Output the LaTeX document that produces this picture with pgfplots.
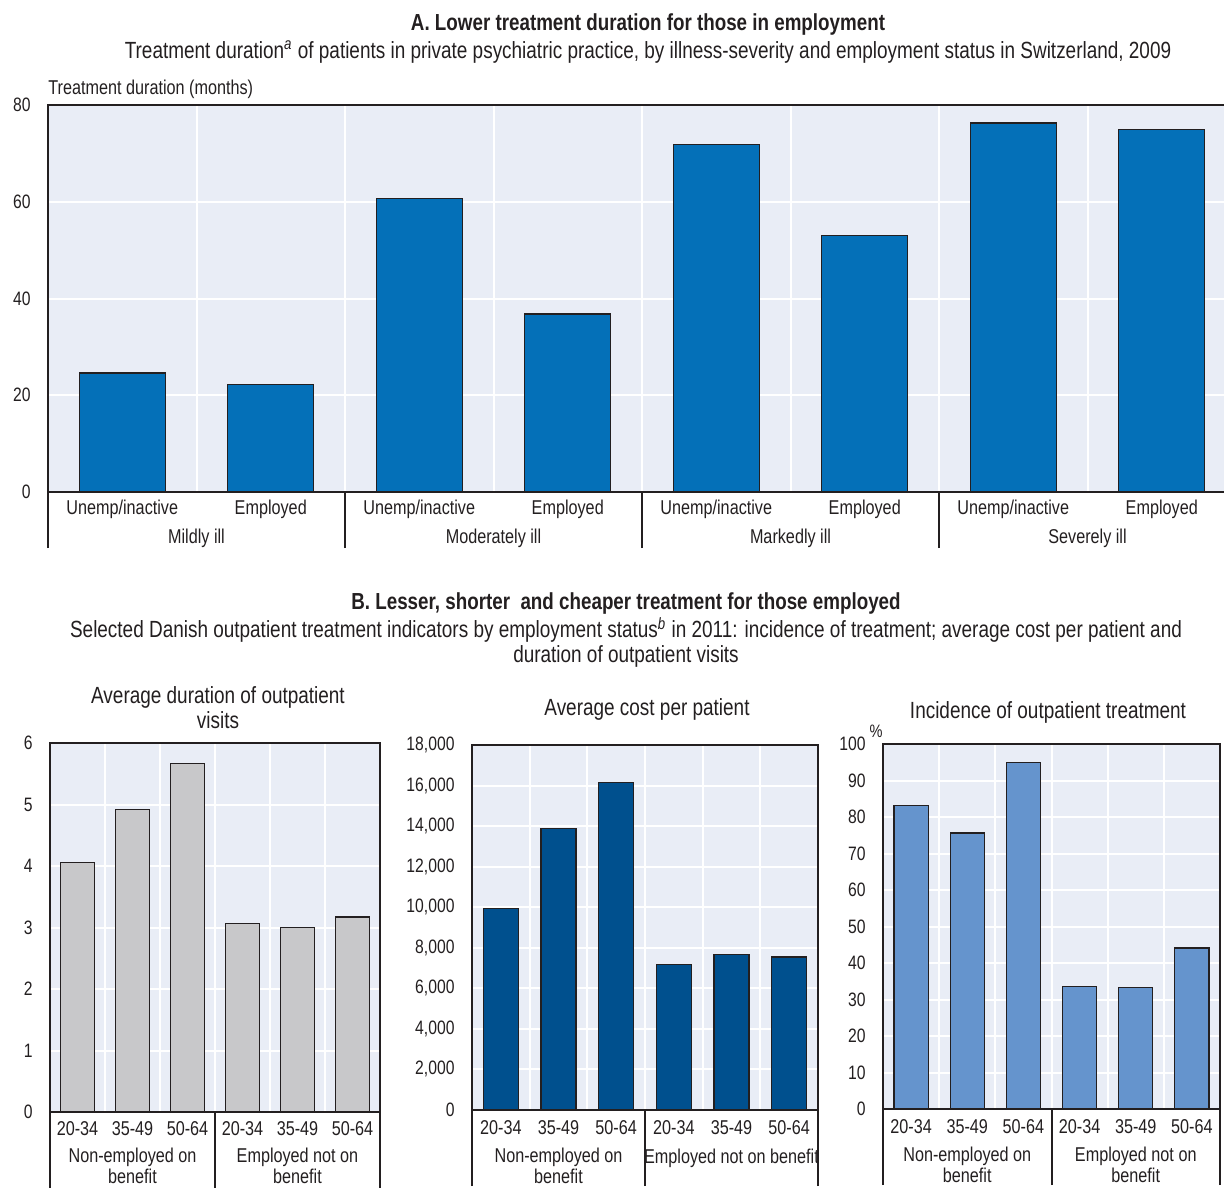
\documentclass[border=0pt]{standalone}
\usepackage{fontspec}
\setmainfont{Liberation Sans}[FakeStretch=0.81]
\usepackage{pgfplots}
\pgfplotsset{compat=1.18}
\definecolor{bgc}{RGB}{233,237,246}
\definecolor{dk}{RGB}{35,31,32}
\definecolor{topbar}{RGB}{4,112,184}
\definecolor{greybar}{RGB}{200,200,202}
\definecolor{navybar}{RGB}{0,80,142}
\definecolor{lightbar}{RGB}{101,148,205}
\newcommand{\fs}{\fontsize{10}{10.5}\selectfont}
\newcommand{\fy}{\fontsize{9.7}{10.5}\selectfont}
\newcommand{\ft}{\fontsize{11.7}{12.5}\selectfont}
\pgfplotsset{
 oecd/.style={
  scale only axis, axis background/.style={fill=bgc},
  ybar, bar shift=0pt, clip=false, enlargelimits=false, ymin=0,
  axis line style={line width=1pt, draw=dk},
  major tick length=0pt, minor tick length=0pt, tick align=outside,
  xtick pos=bottom, ytick pos=left,
  ymajorgrids, major grid style={white, line width=1pt},
  xminorgrids, minor grid style={white, line width=1pt},
  xticklabel style={font=\fs, text=dk},
  yticklabel style={font=\fy, text=dk},
  /pgf/number format/assume math mode=true,
  /pgf/number format/1000 sep={,},
  scaled y ticks=false,
  yticklabel style={xshift=-5.2pt},
  xticklabel style={anchor=base, yshift=-12pt},
  every axis plot/.append style={draw=dk, line width=0.6pt},
  extra x tick labels={},
  extra x tick style={major tick length=38pt, tick style={draw=dk, line width=1pt}},
 },
}
\tikzset{glab/.style={font=\fs, text=dk, align=center, inner sep=0pt, anchor=base}}
\begin{document}
\begin{tikzpicture}
\useasboundingbox (0,0) rectangle (612pt,-593.5pt);
% ---------- Panel A ----------
\node[font=\fontsize{11.6}{12.5}\selectfont\bfseries, text=dk] at (324pt,-12.5pt) {A. Lower treatment duration for those in employment};
\node[font=\ft, text=dk] at (324pt,-26pt) {Treatment duration\textsuperscript{\itshape a} of patients in private psychiatric practice, by illness-severity and employment status in Switzerland, 2009};
\node[font=\fs, text=dk, anchor=west, inner sep=0pt] at (24pt,-44.5pt) {Treatment duration (months)};
\begin{axis}[oecd, at={(24pt,-246pt)}, anchor=south west,
  width=594pt, height=193.5pt, bar width=0.58,
  xmin=-0.5, xmax=7.5, ymax=80, ytick={0,20,40,60,80},
  xtick={0,...,7},
  xticklabels={Unemp/inactive,Employed,Unemp/inactive,Employed,Unemp/inactive,Employed,Unemp/inactive,Employed},
  xticklabel style={yshift=1pt},
  minor xtick={0.5,1.5,...,6.5},
  extra x ticks={-0.5,1.5,3.5,5.5,7.5},
  extra x tick style={major tick length=28pt},
  ]
\addplot[fill=topbar] coordinates {(0,24.6) (1,22.3) (2,60.6) (3,36.8) (4,71.9) (5,53.1) (6,76.3) (7,75.0)};
\node[glab] at (axis cs:0.5,0) [yshift=-25.5pt] {Mildly ill};
\node[glab] at (axis cs:2.5,0) [yshift=-25.5pt] {Moderately ill};
\node[glab] at (axis cs:4.5,0) [yshift=-25.5pt] {Markedly ill};
\node[glab] at (axis cs:6.5,0) [yshift=-25.5pt] {Severely ill};
\end{axis}
% ---------- Panel B ----------
\node[font=\fontsize{11.6}{12.5}\selectfont\bfseries, text=dk] at (313pt,-301.5pt) {B. Lesser, shorter\ \ and cheaper treatment for those employed};
\node[font=\ft, text=dk, align=center] at (313pt,-321.25pt) {Selected Danish outpatient treatment indicators by employment status\textsuperscript{\itshape b} in 2011: incidence of treatment; average cost per patient and\\duration of outpatient visits};
\node[font=\ft, text=dk, align=center] at (109pt,-353.75pt) {Average duration of outpatient\\visits};
\node[font=\ft, text=dk] at (323.5pt,-354.5pt) {Average cost per patient};
\node[font=\ft, text=dk] at (524pt,-356pt) {Incidence of outpatient treatment};
\node[font=\fontsize{9}{10}\selectfont, text=dk] at (438pt,-365.5pt) {\%};
% chart 1
\begin{axis}[oecd, at={(25pt,-556pt)}, anchor=south west,
  width=165pt, height=184.5pt, bar width=0.61,
  xmin=-0.5, xmax=5.5, ymax=6, ytick={0,...,6},
  xtick={0,...,5}, xticklabels={20-34,35-49,50-64,20-34,35-49,50-64},
  xticklabel style={yshift=0.5pt},
  minor xtick={0.5,1.5,...,4.5},
  extra x ticks={-0.5,2.5,5.5},
  ]
\addplot[fill=greybar] coordinates {(0,4.06) (1,4.92) (2,5.67) (3,3.07) (4,3.00) (5,3.17)};
\node[glab] at (axis cs:1,0) [yshift=-35.8pt] {Non-employed on\\benefit};
\node[glab] at (axis cs:4,0) [yshift=-35.8pt] {Employed not on\\benefit};
\end{axis}
% chart 2
\begin{axis}[oecd, at={(236pt,-555pt)}, anchor=south west,
  width=173pt, height=182.5pt, bar width=0.61,
  xmin=-0.5, xmax=5.5, ymax=18000, ytick={0,2000,...,18000},
  xtick={0,...,5}, xticklabels={20-34,35-49,50-64,20-34,35-49,50-64},
  minor xtick={0.5,1.5,...,4.5},
  extra x ticks={-0.5,2.5,5.5},
  ]
\addplot[fill=navybar] coordinates {(0,9930) (1,13870) (2,16160) (3,7170) (4,7680) (5,7550)};
\node[glab] at (axis cs:1,0) [yshift=-36.5pt] {Non-employed on\\benefit};
\node[glab] at (axis cs:4,0) [yshift=-26.5pt] {Employed not on benefit};
\end{axis}
% chart 3
\begin{axis}[oecd, at={(441.5pt,-554.5pt)}, anchor=south west,
  width=168.5pt, height=182.5pt, bar width=0.61,
  xmin=-0.5, xmax=5.5, ymax=100, ytick={0,10,...,100},
  xtick={0,...,5}, xticklabels={20-34,35-49,50-64,20-34,35-49,50-64},
  minor xtick={0.5,1.5,...,4.5},
  extra x ticks={-0.5,2.5,5.5},
  ]
\addplot[fill=lightbar] coordinates {(0,83.2) (1,75.6) (2,95.0) (3,33.6) (4,33.2) (5,44.1)};
\node[glab] at (axis cs:1,0) [yshift=-36.5pt] {Non-employed on\\benefit};
\node[glab] at (axis cs:4,0) [yshift=-36.5pt] {Employed not on\\benefit};
\end{axis}
\end{tikzpicture}
\end{document}
